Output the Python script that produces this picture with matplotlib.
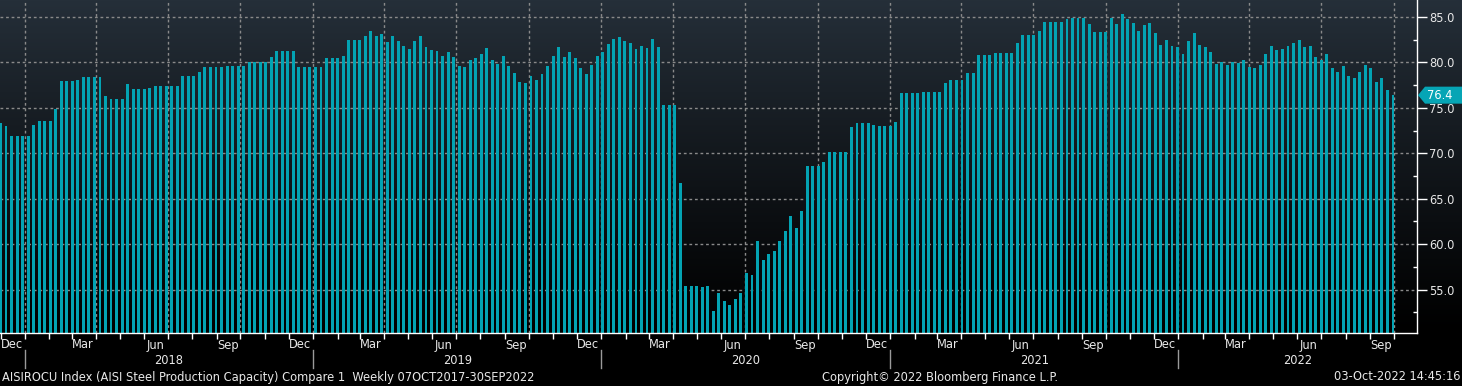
import numpy as np
import pandas as pd
import matplotlib
matplotlib.use('Agg')
import matplotlib.pyplot as plt
import matplotlib.dates as mdates
from matplotlib.patches import Polygon
from matplotlib.lines import Line2D
from matplotlib.transforms import blended_transform_factory

# weekly AISI steel capacity utilisation (%)
values = [
    73.3, 73.0, 71.9, 71.9, 71.9, 71.9, 73.1, 73.6, 73.6, 73.6, 74.9, 78.0, 78.0, 78.0, 78.1, 78.4,
    78.4, 78.4, 78.4, 76.3, 76.0, 76.0, 76.0, 77.6, 77.1, 77.1, 77.1, 77.2, 77.4, 77.4, 77.4, 77.4,
    77.4, 78.5, 78.5, 78.5, 78.9, 79.5, 79.5, 79.5, 79.5, 79.6, 79.6, 79.6, 79.6, 80.1, 80.1, 80.0,
    80.1, 80.6, 81.3, 81.3, 81.3, 81.3, 79.5, 79.5, 79.5, 79.5, 79.5, 80.5, 80.5, 80.5, 80.7, 82.5,
    82.5, 82.5, 82.9, 83.5, 82.9, 83.1, 82.2, 82.9, 82.4, 81.8, 81.5, 82.4, 82.9, 81.7, 81.4, 81.3,
    80.7, 81.1, 80.6, 79.6, 79.5, 80.3, 80.5, 80.9, 81.6, 80.3, 79.8, 80.7, 79.6, 78.8, 77.8, 77.7,
    78.5, 78.1, 78.7, 79.6, 80.7, 81.7, 80.6, 81.1, 80.5, 79.4, 78.7, 79.7, 80.7, 81.1, 82.0, 82.6,
    82.8, 82.4, 82.1, 81.5, 81.8, 81.6, 82.6, 81.7, 75.3, 75.3, 75.3, 66.7, 55.4, 55.4, 55.4, 55.3,
    55.4, 52.7, 54.6, 53.8, 53.3, 54.0, 54.6, 56.8, 56.6, 60.3, 58.3, 58.9, 59.3, 60.4, 61.5, 63.1,
    61.8, 63.7, 68.6, 68.6, 68.6, 69.0, 70.1, 70.1, 70.1, 70.1, 72.9, 73.3, 73.3, 73.3, 73.1, 73.0,
    73.0, 73.0, 73.4, 76.6, 76.6, 76.6, 76.6, 76.7, 76.8, 76.8, 76.8, 77.7, 78.1, 78.1, 78.1, 78.8,
    78.8, 80.8, 80.8, 80.8, 81.0, 81.0, 81.0, 81.0, 82.1, 83.0, 83.0, 83.0, 83.5, 84.4, 84.4, 84.4,
    84.4, 84.8, 84.9, 84.9, 84.9, 84.2, 83.3, 83.3, 83.3, 84.9, 84.2, 85.3, 84.8, 84.3, 83.5, 84.1,
    84.3, 83.2, 81.9, 82.5, 81.8, 81.7, 80.9, 82.4, 83.2, 81.9, 81.7, 81.1, 79.8, 80.1, 79.7, 80.0,
    79.9, 80.3, 79.5, 79.4, 79.7, 80.9, 81.8, 81.4, 81.5, 81.8, 82.1, 82.5, 81.7, 81.8, 80.6, 80.3,
    80.9, 79.4, 78.9, 79.6, 78.5, 78.3, 79.0, 79.7, 79.4, 77.8, 78.3, 77.0, 76.4,
]
last_date = '2022-09-30'
y_ticks = [55, 60, 65, 70, 75, 80, 85]
quarter_months = {3: 'Mar', 6: 'Jun', 9: 'Sep', 12: 'Dec'}
years = [2018, 2019, 2020, 2021, 2022]
last_label = '76.4'

title_text = 'AISIROCU Index (AISI Steel Production Capacity) Compare 1  Weekly 07OCT2017-30SEP2022'
copyright_text = 'Copyright\u00a9 2022 Bloomberg Finance L.P.'
stamp_text = '03-Oct-2022 14:45:16'

BAR = '#03a3b3'
TXT = '#e8e8e8'
GRID = '#8a8a8a'
FS = 9.2

W, H = 1462, 386
PLOT_BOTTOM = 333   # pixel row of the x axis line
PLOT_RIGHT = 1417   # pixel column of the y axis line

plt.rcParams['font.family'] = ['DejaVu Sans']
plt.rcParams['font.stretch'] = 'condensed'

dates = pd.date_range(end=last_date, periods=len(values), freq='7D')
xnum = mdates.date2num(dates)

fig = plt.figure(figsize=(W / 100, H / 100), dpi=100)
fig.patch.set_facecolor('black')

# gradient background behind the plot area (slate at top -> black)
bg = fig.add_axes([0, 1 - PLOT_BOTTOM / H, 1, PLOT_BOTTOM / H])
t = np.linspace(0, 1, 256)[:, None, None]
top = np.array([37, 47, 57]) / 255.0
grad = top[None, None, :] * (1 - t) ** 1.1
bg.imshow(grad, aspect='auto', extent=[0, 1, 0, 1], origin='upper')
bg.axis('off')

ax = fig.add_axes([0, 1 - PLOT_BOTTOM / H, PLOT_RIGHT / W, PLOT_BOTTOM / H])
ax.patch.set_alpha(0)
ax.set_axisbelow(True)

# px per day chosen so first bar sits at x~0.5 and last bar at x~1393
px_day = (1393 - 0.5) / (xnum[-1] - xnum[0])
x0 = xnum[0] - 0.5 / px_day
x1 = x0 + PLOT_RIGHT / px_day

ax.bar(xnum, values, width=3.7, color=BAR, zorder=3)
ax.set_xlim(x0, x1)
ax.set_ylim(50.23, 86.87)

# axes / spines
for s in ['top', 'left']:
    ax.spines[s].set_visible(False)
for s in ['right', 'bottom']:
    ax.spines[s].set_color('white')
    ax.spines[s].set_linewidth(1)
    ax.spines[s].set_zorder(5)

ax.yaxis.tick_right()
ax.set_yticks(y_ticks)
ax.set_yticklabels([f'{v:.1f}' for v in y_ticks])
ax.set_yticks(np.arange(52.5, 86, 5), minor=True)
ax.tick_params(axis='y', which='major', direction='out', length=7, width=1,
               colors='white', labelcolor=TXT, labelsize=FS, pad=2)
ax.tick_params(axis='y', which='minor', direction='in', length=3, width=1, colors='white')

ax.xaxis.set_major_locator(mdates.MonthLocator(bymonth=[1, 4, 7, 10]))
ax.xaxis.set_minor_locator(mdates.MonthLocator())
ax.xaxis.set_major_formatter(plt.NullFormatter())
ax.tick_params(axis='x', which='both', direction='out', length=4, width=1, colors='white')

ax.grid(True, which='major', color=GRID, linestyle=(0, (2, 2)), linewidth=1)

# quarter month labels centred in the month, year labels centred in visible year
tr = blended_transform_factory(ax.transData, fig.transFigure)
for yr in range(2017, 2023):
    for m, name in quarter_months.items():
        xm = mdates.date2num(pd.Timestamp(yr, m, 15))
        if x0 <= xm <= x1:
            ax.text(xm, 1 - 345 / H, name, transform=tr, ha='center', va='center',
                    color=TXT, fontsize=FS, clip_on=False)
for yr in years:
    a = max(mdates.date2num(pd.Timestamp(yr, 1, 1)), x0)
    b = min(mdates.date2num(pd.Timestamp(yr + 1, 1, 1)), x1)
    ax.text((a + b) / 2, 1 - 361 / H, str(yr), transform=tr, ha='center', va='center',
            color=TXT, fontsize=FS, clip_on=False)
    sep = mdates.date2num(pd.Timestamp(yr, 1, 1))
    if x0 < sep < x1:
        fig.add_artist(Line2D([sep, sep], [1 - 350 / H, 1 - 368 / H], transform=tr,
                              color='#9a9a9a', linewidth=1))

# last value tag on the right axis
fig.canvas.draw()
yc = ax.transData.transform((x1, values[-1]))[1]
h = 8.5
tag = Polygon([(1418, yc), (1425, yc + h), (W, yc + h), (W, yc - h), (1425, yc - h)],
              closed=True, transform=None, facecolor='#06a5b5', edgecolor='none', zorder=10)
fig.add_artist(tag)
fig.text(1427 / W, yc / H, last_label, ha='left', va='center', color='white',
         fontsize=FS, zorder=11)

# footer texts
fig.text(2 / W, 1 - 377 / H, title_text, ha='left', va='center', color=TXT, fontsize=FS)
fig.text(940 / W, 1 - 377 / H, copyright_text, ha='center', va='center', color=TXT, fontsize=FS)
fig.text(1460 / W, 1 - 377 / H, stamp_text, ha='right', va='center', color=TXT, fontsize=FS)

fig.savefig('out.png', dpi=100, facecolor='black')
